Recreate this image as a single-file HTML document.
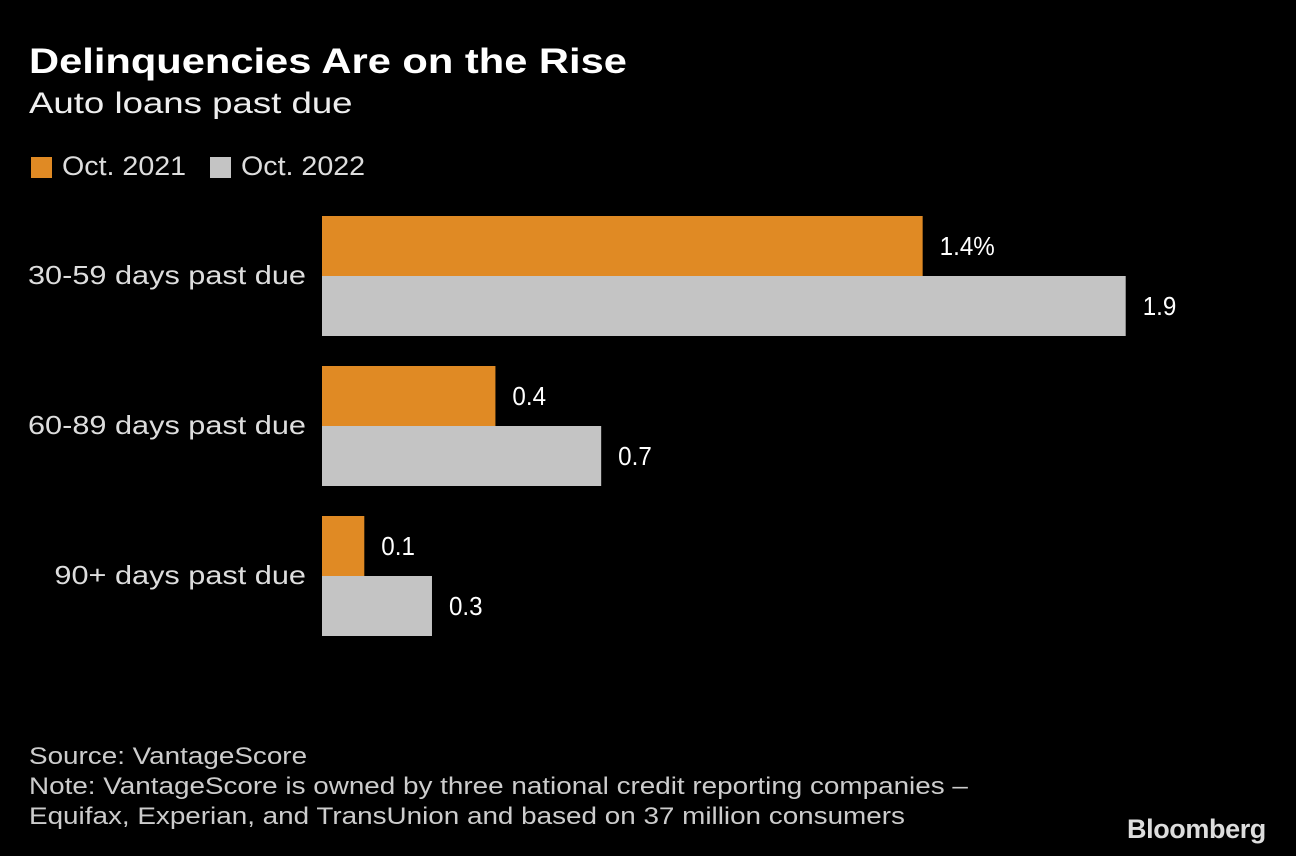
<!DOCTYPE html>
<html><head><meta charset="utf-8"><style>
body{margin:0;background:#000;width:1296px;height:856px;overflow:hidden;font-family:"Liberation Sans",sans-serif;color:#fff;position:relative}
.t{position:absolute;white-space:nowrap;transform-origin:0 0}
</style></head><body>
<div class="t" style="left:29px;top:42px;font-size:35px;font-weight:bold;transform:scaleX(1.19)">Delinquencies Are on the Rise</div>
<div class="t" style="left:29px;top:87px;font-size:30px;color:#eee;transform:scaleX(1.22)">Auto loans past due</div>
<div style="position:absolute;left:31px;top:157px;width:21px;height:21px;background:#e08a24"></div>
<div class="t" style="left:62px;top:151px;font-size:27px;color:#ddd;transform:scaleX(1.06)">Oct. 2021</div>
<div style="position:absolute;left:210px;top:157px;width:21px;height:21px;background:#c4c4c4"></div>
<div class="t" style="left:241px;top:151px;font-size:27px;color:#ddd;transform:scaleX(1.06)">Oct. 2022</div>
<svg id="chart" width="1296" height="700" style="position:absolute;left:0;top:0"></svg>
<div class="t" style="left:29px;top:742px;font-size:24px;line-height:30px;color:#ccc;transform:scaleX(1.16)">Source: VantageScore<br>Note: VantageScore is owned by three national credit reporting companies –<br>Equifax, Experian, and TransUnion and based on 37 million consumers</div>
<div class="t" style="left:1127px;top:814px;font-size:27px;font-weight:bold;color:#ddd;letter-spacing:-0.4px">Bloomberg</div>
<script>
const categories=["30-59 days past due","60-89 days past due","90+ days past due"];
const values2021=[1.42,0.41,0.1];
const values2022=[1.9,0.66,0.26];
const labels2021=["1.4%","0.4","0.1"];
const labels2022=["1.9","0.7","0.3"];
const svg=document.getElementById('chart');
const NS='http://www.w3.org/2000/svg';
const x0=322, scale=423;
function xw(v){return v*scale;}
function gy(i){return 216+i*150;}
function mk(tag,a){const e=document.createElementNS(NS,tag);for(const k in a)e.setAttribute(k,a[k]);svg.appendChild(e);return e;}
categories.forEach((c,i)=>{
  const y=gy(i);
  const cl=mk('text',{x:306,y:y+68,'text-anchor':'end','font-size':26,fill:'#ddd'});cl.textContent=c;
  cl.setAttribute('textLength',(cl.getComputedTextLength()*1.18).toFixed(1));
  cl.setAttribute('lengthAdjust','spacingAndGlyphs');
  
  
  [[values2021,labels2021,'#e08a24',0,'bar-2021'],[values2022,labels2022,'#c4c4c4',60,'bar-2022']].forEach(s=>{
    const w=xw(s[0][i]);
    const r=mk('rect',{x:x0,y:y+s[3],width:w,height:60,fill:s[2]});
    
    
    const t=mk('text',{x:x0+w+17,y:y+s[3]+39,'font-size':26,fill:'#fff'});t.textContent=s[1][i];
    t.setAttribute('textLength',(t.getComputedTextLength()*0.93).toFixed(1));
    t.setAttribute('lengthAdjust','spacingAndGlyphs');
    
    
  });
});
</script>
</body></html>
